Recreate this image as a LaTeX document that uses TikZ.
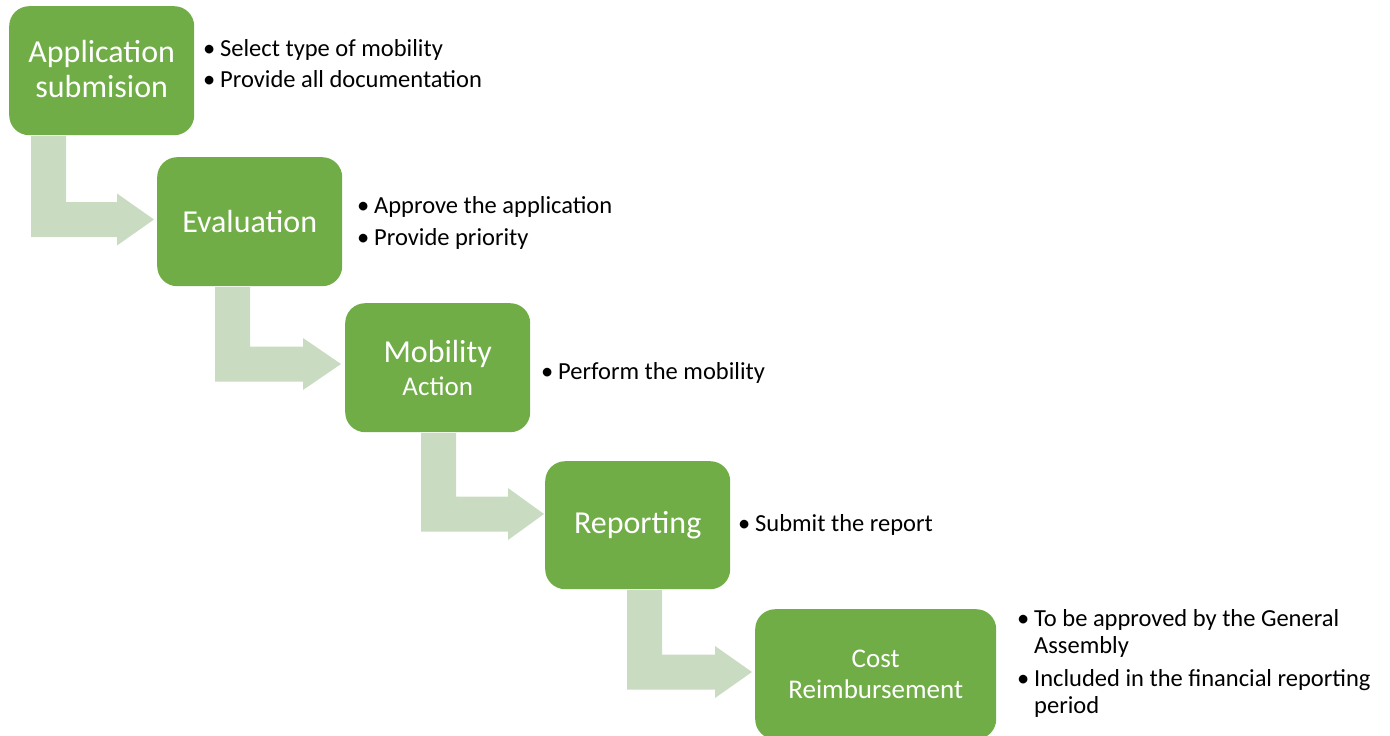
\documentclass[tikz,border=0pt]{standalone}
\usepackage{fontspec}
\setmainfont{Carlito}
\definecolor{boxgreen}{HTML}{70AD47}
\definecolor{arrowgreen}{RGB}{201,220,194}
\newcommand\bulletmark{\makebox[15pt][l]{\kern-2pt\textbullet}}
\newcommand\bentarr[5]{% x0, ytop, yc, xbase, xtip
  \fill[arrowgreen] (#1,#2) -- (#1+35,#2) -- (#1+35,#3-17.5) -- (#4,#3-17.5) -- (#4,#3-26) -- (#5,#3) -- (#4,#3+26) -- (#4,#3+17.5) -- (#1,#3+17.5) -- cycle;}
\begin{document}
\begin{tikzpicture}[x=1pt,y=-1pt,
  stepbox/.style={fill=boxgreen, rounded corners=20pt, inner sep=0pt, text=white, align=center, anchor=north west, minimum width=185pt, minimum height=129pt},
  bullets/.style={anchor=base west, inner sep=0pt, font=\fontsize{24.5}{27}\selectfont}]
\useasboundingbox (0,0) rectangle (1390,736);
% bent arrows
\bentarr{31}{136}{219.5}{117}{154}
\bentarr{215}{287}{364}{303}{341}
\bentarr{421}{433}{514}{508}{544}
\bentarr{627}{590}{672}{715}{752}
% boxes
\node[stepbox, font=\fontsize{32}{35}\selectfont] (app) at (9,6) {Application\\submision\rule[-4pt]{0pt}{4pt}};
\node[stepbox, font=\fontsize{32}{35}\selectfont] (eval) at (157,157) {Evaluation};
\node[stepbox, font=\fontsize{27}{33}\selectfont] (mob) at (345,303) {{\fontsize{32}{33}\selectfont Mobility}\\Action};
\node[stepbox, font=\fontsize{32}{35}\selectfont, minimum height=128pt] (rep) at (545,461) {Reporting};
\node[stepbox, font=\fontsize{27}{31}\selectfont, minimum width=241pt, minimum height=130pt] (cost) at (755,609) {Cost\\Reimbursement};
% bullet lists
\node[bullets] (l1) at (205,56) {\begin{tabular}[t]{@{}l@{}}\bulletmark Select type of mobility\\[5pt]\bulletmark Provide all documentation\end{tabular}};
\node[bullets] (l2) at (359,213) {\begin{tabular}[t]{@{}l@{}}\bulletmark Approve the application\\[5pt]\bulletmark Provide priority\end{tabular}};
\node[bullets] (l3) at (543,379) {\bulletmark Perform the mobility};
\node[bullets] (l4) at (740,531) {\bulletmark Submit the report};
\node[bullets] (l5) at (1019,626) {\begin{tabular}[t]{@{}l@{}}\bulletmark To be approved by the General\\\hspace{15pt}Assembly\\[6pt]\bulletmark Included in the financial reporting\\\hspace{15pt}period\end{tabular}};
\end{tikzpicture}
\end{document}
